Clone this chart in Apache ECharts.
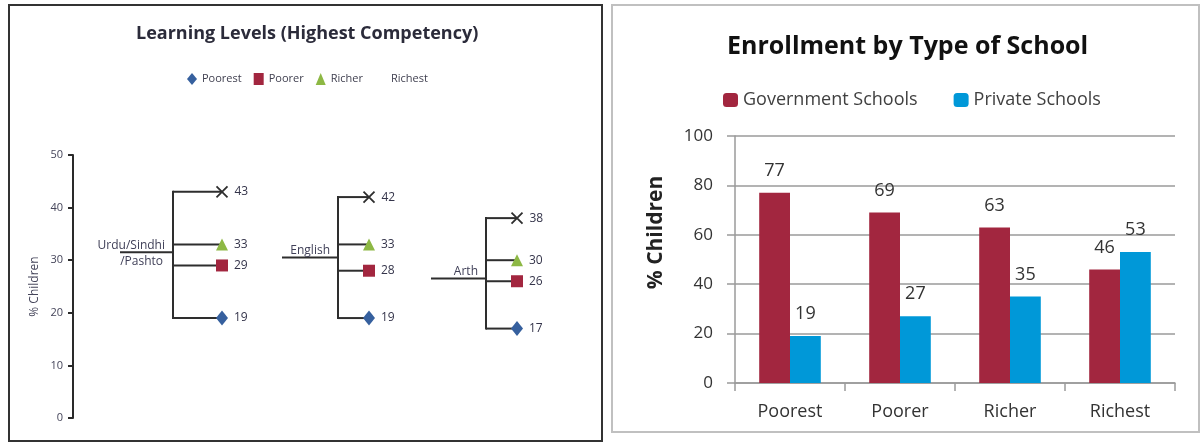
<!DOCTYPE html>
<html><head><meta charset="utf-8">
<script src="https://cdn.jsdelivr.net/npm/echarts@6/dist/echarts.min.js"></script>
<style>html,body{margin:0;padding:0;background:#fff}#c{width:1201px;height:443px}</style>
</head><body><div id="c"></div>
<script>
// ---- Left chart: Learning Levels (Highest Competency) ----
const subjects = ['Urdu/Sindhi\n/Pashto', 'English', 'Arth'];
const poorest = [19, 19, 17];
const poorer  = [29, 28, 26];
const richer  = [33, 33, 30];
const richest = [43, 42, 38];
const stemLevels = [31.5, 30.5, 26.5];
const quintiles = ['Poorest', 'Poorer', 'Richer', 'Richest'];

// ---- Right chart: Enrollment by Type of School ----
const wealth = ['Poorest', 'Poorer', 'Richer', 'Richest'];
const government = [77, 69, 63, 46];
const privateSch = [19, 27, 35, 53];

// layout (positions on the hidden horizontal axis of the left diagram)
const treeStemStart = [120, 282, 431];
const treeFork = [173, 338, 486];
const treeTip = [222, 369, 517];

const FONT = '"Open Sans", Lato, sans-serif';
const chart = echarts.init(document.getElementById('c'));

function tipData(vals){ return vals.map((v, g) => [treeTip[g], v]); }
const ptLabel = {show:true, position:'right', distance:6, fontSize:12, color:'#34344a', fontFamily:FONT,
  formatter: p => p.value[1]};

chart.setOption({
  animation: false,
  backgroundColor: '#fff',
  title: [
    {text:'Learning Levels (Highest Competency)', left:136, top:25, padding:0,
     textStyle:{fontSize:18, fontWeight:'bold', color:'#2b2b3a', fontFamily:FONT}},
    {text:'Enrollment by Type of School', left:727, top:34, padding:0,
     textStyle:{fontSize:25, fontWeight:'bold', color:'#111', fontFamily:FONT}}
  ],
  legend: [
    {left:187, top:73, padding:0, itemWidth:10, itemHeight:12, itemGap:12,
     textStyle:{fontSize:11, color:'#404050', fontFamily:FONT},
     data:[{name:'Poorest'},{name:'Poorer'},{name:'Richer'},
           {name:'Richest', itemStyle:{color:'rgba(0,0,0,0)', borderColor:'rgba(0,0,0,0)'}}]},
    {left:723, top:91, padding:0, itemWidth:15, itemHeight:14, itemGap:36,
     textStyle:{fontSize:18, color:'#404040', fontFamily:FONT},
     data:['Government Schools','Private Schools']}
  ],
  grid: [
    {left:73, right:600, top:155, bottom:25},
    {left:735, right:26, top:136, bottom:60}
  ],
  xAxis: [
    {gridIndex:0, type:'value', min:73, max:601, show:false},
    {gridIndex:1, type:'category', data:wealth,
     axisLine:{lineStyle:{color:'#9a9a9a', width:1.5}},
     axisTick:{show:true, length:8, lineStyle:{color:'#9a9a9a', width:1.5}},
     axisLabel:{fontSize:18, color:'#333', margin:20, fontFamily:FONT}}
  ],
  yAxis: [
    {gridIndex:0, type:'value', min:0, max:50, interval:10,
     axisLine:{show:true, lineStyle:{color:'#2a2a2a', width:2}},
     axisTick:{show:true, length:5, lineStyle:{color:'#2a2a2a', width:2}},
     splitLine:{show:false},
     axisLabel:{fontSize:11, color:'#45455a', margin:10, fontFamily:FONT},
     name:'% Children', nameLocation:'middle', nameGap:32,
     nameTextStyle:{fontSize:12, color:'#45455a', fontFamily:FONT}},
    {gridIndex:1, type:'value', min:0, max:100, interval:20,
     axisLine:{show:true, lineStyle:{color:'#9a9a9a', width:1.5}},
     axisTick:{show:true, length:8, lineStyle:{color:'#9a9a9a', width:1.5}},
     splitLine:{show:true, lineStyle:{color:'#9a9a9a', width:1.5}},
     axisLabel:{fontSize:17, color:'#333', margin:22, fontFamily:FONT},
     name:'% Children', nameLocation:'middle', nameGap:68,
     nameTextStyle:{fontSize:21, fontWeight:'bold', color:'#222', fontFamily:FONT, padding:[0,0,0,54]}}
  ],
  series: [
    {type:'custom', name:'tree', xAxisIndex:0, yAxisIndex:0, z:1, silent:true,
     data: subjects.map((s, g) => [treeFork[g], stemLevels[g]]),
     renderItem: function(params, api){
       const g = params.dataIndex;
       const vals = [poorest[g], poorer[g], richer[g], richest[g]];
       const lo = Math.min.apply(null, vals), hi = Math.max.apply(null, vals);
       const P = (x, y) => api.coord([x, y]);
       const st = {stroke:'#2e2e2e', lineWidth:2, fill:null};
       const kids = [];
       const a = P(treeStemStart[g], stemLevels[g]), b = P(treeFork[g], stemLevels[g]);
       kids.push({type:'line', shape:{x1:a[0], y1:a[1], x2:b[0], y2:b[1]}, style:st});
       const t = P(treeFork[g], hi), u = P(treeFork[g], lo);
       kids.push({type:'line', shape:{x1:t[0], y1:t[1]-1, x2:u[0], y2:u[1]+1}, style:st});
       vals.forEach(v => {
         const p = P(treeFork[g], v), q = P(treeTip[g], v);
         kids.push({type:'line', shape:{x1:p[0], y1:p[1], x2:q[0], y2:q[1]}, style:st});
       });
       const lines = subjects[g].split('\n');
       kids.push({type:'text', style:{text:lines[0], x:b[0]-8, y:b[1]-1, align:'right', verticalAlign:'bottom',
         fontSize:12, fontFamily:FONT, fill:'#404058'}});
       if (lines[1]) kids.push({type:'text', style:{text:lines[1], x:b[0]-10, y:b[1]+3, align:'right', verticalAlign:'top',
         fontSize:12, fontFamily:FONT, fill:'#404058'}});
       return {type:'group', children:kids};
     }},
    {type:'scatter', name:'Poorest', xAxisIndex:0, yAxisIndex:0, z:3, symbol:'diamond', symbolSize:[12,15],
     itemStyle:{color:'#36609e', opacity:1}, label:ptLabel, data:tipData(poorest)},
    {type:'scatter', name:'Poorer', xAxisIndex:0, yAxisIndex:0, z:3, symbol:'rect', symbolSize:12,
     itemStyle:{color:'#a2263f', opacity:1}, label:ptLabel, data:tipData(poorer)},
    {type:'scatter', name:'Richer', xAxisIndex:0, yAxisIndex:0, z:3, symbol:'triangle', symbolSize:[12,12],
     itemStyle:{color:'#8db844', opacity:1}, label:ptLabel, data:tipData(richer)},
    {type:'scatter', name:'Richest', xAxisIndex:0, yAxisIndex:0, z:3,
     symbol:'path://M0,0L10,10M10,0L0,10', symbolSize:11,
     itemStyle:{color:'rgba(0,0,0,0)', borderColor:'#2e2e2e', borderWidth:1.8, opacity:1}, label:ptLabel, data:tipData(richest)},
    {type:'bar', name:'Government Schools', xAxisIndex:1, yAxisIndex:1, data:government,
     barGap:'0%', barCategoryGap:'44%', itemStyle:{color:'#a2263f'},
     label:{show:true, position:'top', distance:13, fontSize:18, color:'#333', fontFamily:FONT}},
    {type:'bar', name:'Private Schools', xAxisIndex:1, yAxisIndex:1, data:privateSch,
     barGap:'0%', barCategoryGap:'44%', itemStyle:{color:'#0098d8'},
     label:{show:true, position:'top', distance:13, fontSize:18, color:'#333', fontFamily:FONT}}
  ],
  graphic: [
    {type:'rect', silent:true, z:0, shape:{x:9, y:5, width:593, height:436}, style:{fill:null, stroke:'#333', lineWidth:2}},
    {type:'rect', silent:true, z:0, shape:{x:612, y:5, width:587, height:427}, style:{fill:null, stroke:'#c0c0c0', lineWidth:2}}
  ]
});
</script></body></html>
